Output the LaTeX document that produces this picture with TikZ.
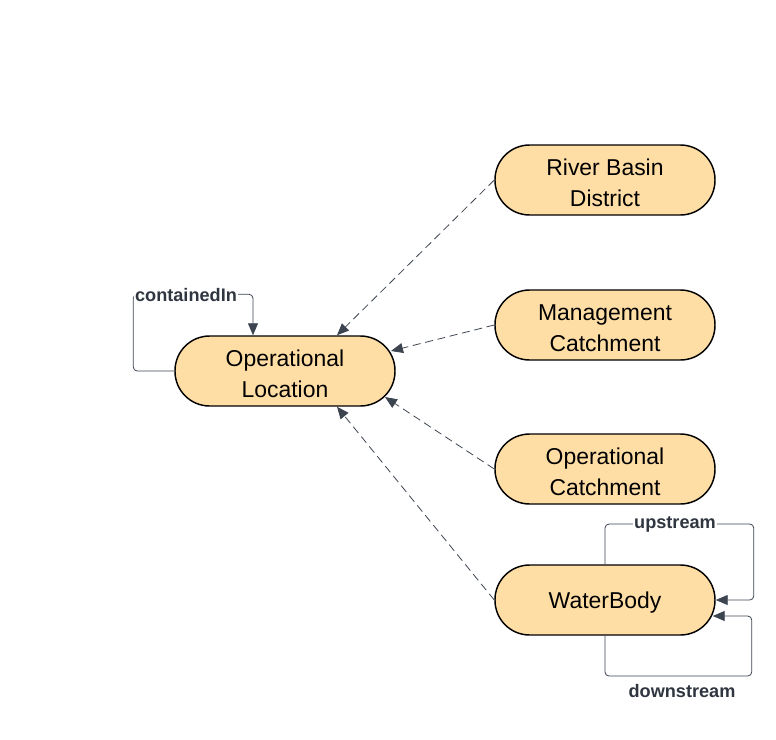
\documentclass[tikz,border=0pt]{standalone}
\usepackage{fontspec}
\setmainfont{Liberation Sans}
\usetikzlibrary{arrows.meta,calc}
\definecolor{nodefill}{HTML}{FFDEA6}
\definecolor{edgecol}{HTML}{3C4450}
\newcommand\topstrut{\rule{0pt}{17pt}}
\tikzset{
  entity/.style={draw=black, line width=1.1pt, fill=nodefill, rounded corners=26pt,
    minimum width=165pt, minimum height=52.5pt, inner sep=0pt, align=center,
    font=\fontsize{17.2}{23.5}\selectfont},
  depedge/.style={draw=edgecol, line width=0.6pt, dash pattern=on 6pt off 3.5pt,
    -{Triangle[length=9pt,width=7.5pt]}},
  relloop/.style={draw=edgecol, line width=0.6pt, rounded corners=3pt,
    -{Triangle[length=9pt,width=7.5pt]}},
  rellabel/.style={fill=white, inner sep=1pt, text=edgecol!80!black,
    font=\bfseries\fontsize{13.6}{15}\selectfont}
}
\begin{document}
\begin{tikzpicture}[x=0.75pt,y=-0.75pt]
\useasboundingbox (0,0) rectangle (776,740);
\node[entity] (ol) at (285,371) {\topstrut Operational\\Location};
\node[entity] (rbd) at (605,180) {\topstrut River Basin\\District};
\node[entity] (mc) at (605,325) {\topstrut Management\\Catchment};
\node[entity] (oc) at (605,469) {\topstrut Operational\\Catchment};
\node[entity] (wb) at (605,600) {\topstrut WaterBody};

\draw[depedge] (rbd.west) -- ($(ol.north)+(52,0)$);
\draw[depedge] (mc.west) -- ($(ol.center)+(106,-20)$);
\draw[depedge] (oc.west) -- ($(ol.center)+(100,26)$);
\draw[depedge] (wb.west) -- ($(ol.south)+(52,0)$);

\draw[relloop] (ol.west) -- ++(-41,0) |- ($(ol.north)+(-32,-41)$) -- ($(ol.north)+(-32,0)$);
\node[rellabel] (lci) at (186,295) {containedIn};

\draw[relloop] (wb.north) |- ($(wb.east)+(38,-76)$) |- (wb.east);
\node[rellabel] (lup) at (675,524) {upstream};

\draw[relloop] (wb.south) |- ($(wb.east)+(36,76)$) |- ($(wb.east)+(-3,16)$);
\node[rellabel, fill=none] (ldown) at (682,691) {downstream};
\end{tikzpicture}
\end{document}
